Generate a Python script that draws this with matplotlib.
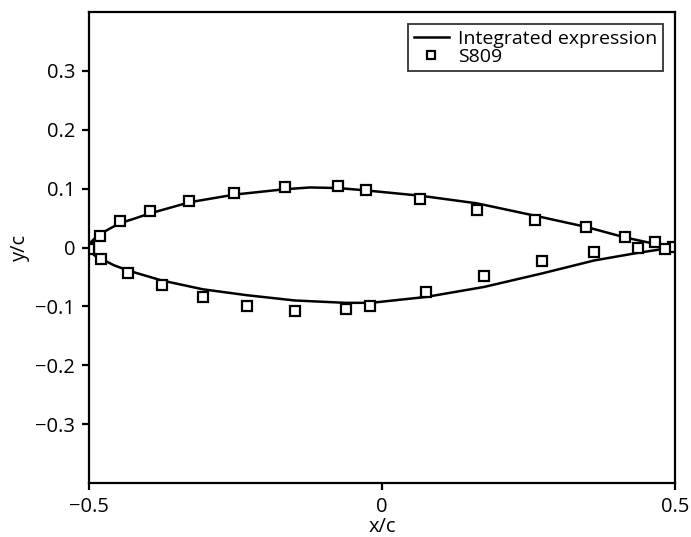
import numpy as np
import matplotlib
matplotlib.use('Agg')
import matplotlib.pyplot as plt

plt.rcParams['font.family'] = ['Open Sans', 'DejaVu Sans']
plt.rcParams['axes.unicode_minus'] = True

# integrated expression, upper and lower surface
upper_x = [-0.5, -0.499, -0.496, -0.49, -0.482, -0.465, -0.448, -0.42, -0.396, -0.328,
           -0.251, -0.166, -0.123, -0.075, -0.028, 0.065, 0.162, 0.261, 0.348,
           0.415, 0.466, 0.5]
upper_y = [0.0, 0.005, 0.010, 0.016, 0.022, 0.032, 0.041, 0.050, 0.058, 0.077,
           0.090, 0.099, 0.102, 0.101, 0.097, 0.088, 0.075, 0.054, 0.035,
           0.017, 0.006, 0.0]
lower_x = [-0.5, -0.499, -0.496, -0.49, -0.480, -0.458, -0.434, -0.376, -0.306,
           -0.231, -0.149, -0.062, -0.019, 0.075, 0.174, 0.273, 0.362, 0.437,
           0.483, 0.5]
lower_y = [0.0, -0.005, -0.009, -0.014, -0.019, -0.030, -0.039, -0.056, -0.071,
           -0.081, -0.090, -0.094, -0.094, -0.084, -0.067, -0.044, -0.022, -0.009,
           -0.002, 0.0]

# S809 coordinates
s809_x = [-0.5, -0.482, -0.448, -0.396, -0.329, -0.252, -0.165, -0.075, -0.028,
          0.065, 0.162, 0.261, 0.348, 0.415, 0.466, 0.497,
          -0.5, -0.479, -0.434, -0.376, -0.305, -0.230, -0.148, -0.062, -0.020,
          0.075, 0.174, 0.272, 0.362, 0.436, 0.483]
s809_y = [0.001, 0.020, 0.045, 0.062, 0.079, 0.092, 0.102, 0.104, 0.098,
          0.082, 0.064, 0.047, 0.034, 0.018, 0.009, 0.001,
          -0.003, -0.020, -0.043, -0.063, -0.084, -0.100, -0.108, -0.105, -0.099,
          -0.075, -0.048, -0.023, -0.008, 0.000, -0.002]

fig = plt.figure(figsize=(6.91, 5.37), dpi=100)
ax = fig.add_axes([0.129, 0.1006, 0.848, 0.877])

ax.plot(upper_x, upper_y, color='black', lw=1.8, label='Integrated expression')
ax.plot(lower_x, lower_y, color='black', lw=1.8)
ax.plot(s809_x, s809_y, ls='none', marker='s', ms=6.5, mfc='white', mec='black',
        mew=1.6, label='S809')

ax.set_xlim(-0.5, 0.5)
ax.set_ylim(-0.4, 0.4)
ax.set_xticks([-0.5, 0, 0.5])
ax.set_xticklabels(['\u22120.5', '0', '0.5'])
ax.set_yticks([-0.3, -0.2, -0.1, 0, 0.1, 0.2, 0.3])
ax.set_yticklabels(['\u22120.3', '\u22120.2', '\u22120.1', '0', '0.1', '0.2', '0.3'])

for s in ax.spines.values():
    s.set_linewidth(1.6)
ax.tick_params(direction='out', length=5, width=1.6, labelsize=14.5, pad=5)
ax.set_xlabel('x/c', fontsize=14.5, labelpad=0)
ax.set_ylabel('y/c', fontsize=14.5, labelpad=4)

leg = ax.legend(loc='upper right', fontsize=14, frameon=True, fancybox=False,
                handlelength=1.8, handletextpad=0.5, borderpad=0.3,
                labelspacing=0.0, borderaxespad=0, markerscale=0.8,
                bbox_to_anchor=(0.98, 0.975))
leg.get_frame().set_edgecolor('black')
leg.get_frame().set_linewidth(1.3)

fig.savefig('out.png', dpi=100)
